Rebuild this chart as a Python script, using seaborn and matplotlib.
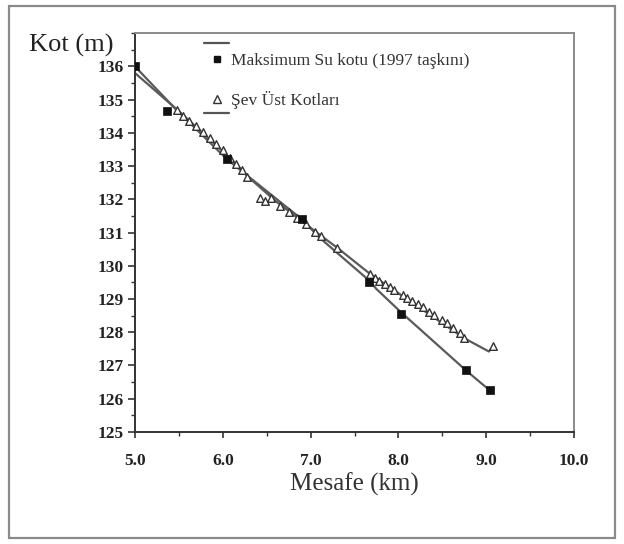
import matplotlib
matplotlib.use("Agg")
import matplotlib.pyplot as plt
import seaborn as sns
import numpy as np
import pandas as pd
from matplotlib.patches import Rectangle
from matplotlib.lines import Line2D
from matplotlib.ticker import MultipleLocator, FixedLocator, FormatStrFormatter

# --- data ---
max_x = [5.00, 5.37, 6.05, 6.90, 7.67, 8.03, 8.77, 9.04]
max_y = [136.0, 134.67, 133.2, 131.4, 129.5, 128.55, 126.85, 126.25]

# water-level line (passes close to, not exactly through, the squares)
max_line_x = [5.00, 5.45, 6.05, 6.90, 7.10, 7.67, 7.75, 8.03, 8.77, 9.04]
max_line_y = [136.0, 134.75, 133.2, 131.4, 130.85, 129.55, 129.3, 128.6, 126.85, 126.25]

sev_x = [5.48, 5.55, 5.62, 5.70, 5.78, 5.85, 5.92, 6.00, 6.08, 6.15, 6.22, 6.28,
         6.42, 6.48, 6.55, 6.65, 6.75, 6.85, 6.95, 7.05, 7.12, 7.30,
         7.68, 7.73, 7.78, 7.85, 7.90, 7.95, 8.05, 8.10, 8.15, 8.22, 8.28, 8.35,
         8.40, 8.50, 8.55, 8.62, 8.70, 8.75, 9.08]
sev_y = [134.68, 134.52, 134.36, 134.2, 134.02, 133.86, 133.68, 133.48, 133.25, 133.05, 132.88, 132.68,
         132.05, 131.95, 132.05, 131.8, 131.62, 131.44, 131.25, 131.02, 130.9, 130.55,
         129.75, 129.62, 129.55, 129.45, 129.36, 129.28, 129.12, 129.02, 128.95, 128.85, 128.75, 128.62,
         128.52, 128.38, 128.28, 128.12, 127.98, 127.82, 127.58]

# bank-level line
sev_line_x = [5.00, 5.48, 6.08, 6.30, 6.60, 7.12, 7.30, 7.68, 8.75, 9.03, 9.08]
sev_line_y = [135.8, 134.7, 133.25, 132.65, 131.95, 130.9, 130.55, 129.75, 127.82, 127.42, 127.58]

x_ticks = [5.0, 6.0, 7.0, 8.0, 9.0, 10.0]
y_ticks = list(range(125, 137))

legend_labels = ["Maksimum Su kotu (1997 taşkını)", "Şev Üst Kotları"]

df_max = pd.DataFrame({"x": max_x, "y": max_y})
df_max_line = pd.DataFrame({"x": max_line_x, "y": max_line_y})
df_sev = pd.DataFrame({"x": sev_x, "y": sev_y})
df_sev_line = pd.DataFrame({"x": sev_line_x, "y": sev_line_y})

# --- style ---
sns.set_theme(style="ticks")
serif = ["Liberation Serif", "DejaVu Serif"]
plt.rcParams["font.family"] = serif

fig = plt.figure(figsize=(6.24, 5.44), dpi=100)
ax = fig.add_axes([0.2163, 0.206, 0.7037, 0.733])

line_col = "#5a5a5a"
sns.lineplot(data=df_max_line, x="x", y="y", ax=ax, sort=False, color=line_col,
             lw=1.6, estimator=None)
sns.lineplot(data=df_sev_line, x="x", y="y", ax=ax, sort=False, color=line_col,
             lw=1.6, estimator=None)
sns.scatterplot(data=df_sev, x="x", y="y", ax=ax, marker="^", s=30,
                facecolor="white", edgecolor="#333333", linewidth=1.0, zorder=4)
sns.scatterplot(data=df_max, x="x", y="y", ax=ax, marker="s", s=36,
                color="#111111", edgecolor="#111111", linewidth=0.5, zorder=5)

ax.set_xlim(5.0, 10.0)
ax.set_ylim(125, 137)
ax.xaxis.set_major_locator(FixedLocator(x_ticks))
ax.xaxis.set_minor_locator(MultipleLocator(0.5))
ax.xaxis.set_major_formatter(FormatStrFormatter("%.1f"))
ax.yaxis.set_major_locator(FixedLocator(y_ticks))
ax.yaxis.set_minor_locator(MultipleLocator(0.5))

ax.tick_params(axis="both", which="major", direction="out", length=5, width=1.2,
               colors="#333333", labelcolor="#222222")
ax.tick_params(axis="both", which="minor", direction="out", length=3, width=1.0,
               colors="#333333")
ax.tick_params(axis="x", which="major", length=4, pad=11)
ax.tick_params(axis="y", which="major", pad=3)
for lab in ax.get_xticklabels() + ax.get_yticklabels():
    lab.set_fontweight("bold")
    lab.set_fontsize(12.5)
    lab.set_family(serif)

for side in ["left", "bottom"]:
    ax.spines[side].set_color("#333333")
    ax.spines[side].set_linewidth(1.4)
for side in ["top", "right"]:
    ax.spines[side].set_color("#8a8a8a")
    ax.spines[side].set_linewidth(1.4)

ax.set_xlabel("Mesafe (km)", fontsize=18, color="#333333", labelpad=3)
ax.set_ylabel("")
fig.text(0.046, 0.917, "Kot (m)", fontsize=19, color="#222222", ha="left", va="center")

# legend
h1 = Line2D([], [], marker="s", color="#111111", ls="none", markersize=5)
h2 = Line2D([], [], marker="^", markerfacecolor="white", markeredgecolor="#333333",
            ls="none", markersize=5.5)
leg = ax.legend([h1, h2], legend_labels, loc="upper left", bbox_to_anchor=(0.155, 0.968),
                frameon=False, fontsize=12.5, handlelength=0.8, handletextpad=0.4,
                labelspacing=1.25, borderaxespad=0.0)
for t in leg.get_texts():
    t.set_color("#333333")
# legend decoration lines
ax.plot([0.158, 0.215], [0.975, 0.975], transform=ax.transAxes, color="#555555", lw=1.6, clip_on=False)
ax.plot([0.158, 0.215], [0.80, 0.80], transform=ax.transAxes, color="#555555", lw=1.6, clip_on=False)

# figure border
fig.patches.append(Rectangle((0.014, 0.011), 0.972, 0.978, transform=fig.transFigure,
                             fill=False, ec="#8a8a8a", lw=1.6))

fig.savefig("out.png", dpi=100)
